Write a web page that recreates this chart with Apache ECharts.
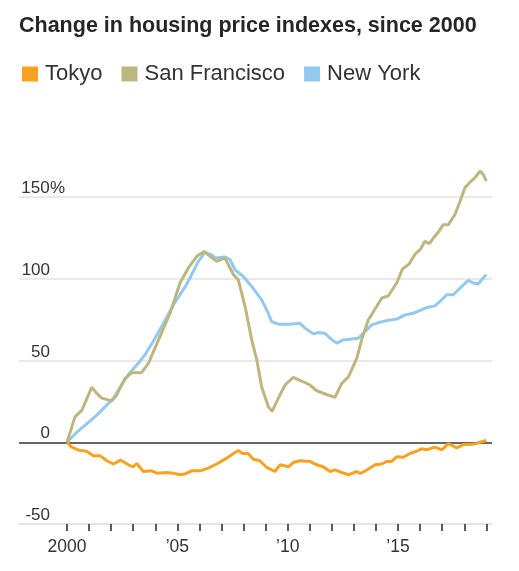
<!DOCTYPE html>
<html><head><meta charset="utf-8">
<script src="https://cdn.jsdelivr.net/npm/echarts@6/dist/echarts.min.js"></script>
<style>html,body{margin:0;padding:0;background:#fff}#c{width:519px;height:571px}</style>
</head><body><div id="c"></div>
<script>
const titleText = 'Change in housing price indexes, since 2000';
const seriesNames = ['Tokyo', 'San Francisco', 'New York'];
const yTicks = [-50, 0, 50, 100, 150];
const xTickYears = [2000,2001,2002,2003,2004,2005,2006,2007,2008,2009,2010,2011,2012,2013,2014,2015,2016,2017,2018,2019];
const xLabelYears = [2000, 2005, 2010, 2015];

const tokyoT = [2000,2000.21,2000.59,2000.89,2001.19,2001.5,2001.8,2002.1,2002.43,2002.78,2003.0,2003.16,2003.46,2003.84,2004.06,2004.52,2004.82,2005.12,2005.35,2005.65,2006.03,2006.4,2006.78,2007.24,2007.54,2007.76,2007.96,2008.21,2008.44,2008.74,2009.04,2009.42,2009.65,2010.03,2010.25,2010.56,2011.01,2011.31,2011.61,2011.92,2012.14,2012.45,2012.75,2013.13,2013.28,2013.58,2013.96,2014.26,2014.49,2014.71,2014.94,2015.24,2015.54,2015.84,2016.07,2016.3,2016.67,2016.98,2017.28,2017.66,2017.96,2018.26,2018.49,2018.71,2019.0];
const tokyoV = [0,-3,-5.1,-5.5,-8.2,-8.2,-11.3,-13.3,-10.9,-13.8,-15,-13,-17.9,-17.5,-18.9,-18.5,-18.9,-19.9,-19.4,-17.5,-17.5,-15.8,-13.3,-9.7,-6.9,-5.1,-6.9,-6.9,-10.4,-11.3,-15.3,-17.9,-13.8,-15,-12.4,-11.3,-11.7,-13.8,-15,-17.9,-16.9,-18.5,-19.9,-17.9,-19.1,-17,-13.8,-13.3,-11.7,-11.7,-8.8,-9.2,-6.9,-5.5,-4,-4.6,-3,-4.6,-0.9,-3.4,-1.4,-1.4,-1,0,1.1];

const sfT = [2000,2000.36,2000.67,2001.12,2001.35,2001.57,2002.02,2002.25,2002.63,2002.93,2003.38,2003.69,2004.21,2004.67,2005.12,2005.5,2005.88,2006.22,2006.48,2006.78,2007.16,2007.54,2007.76,2008.07,2008.37,2008.6,2008.82,2009.12,2009.3,2009.57,2009.88,2010.25,2010.71,2011.01,2011.31,2011.77,2012.14,2012.45,2012.75,2013.13,2013.35,2013.65,2014.03,2014.26,2014.56,2014.94,2015.2,2015.5,2015.77,2016.0,2016.22,2016.42,2016.6,2016.82,2017.05,2017.28,2017.58,2017.81,2018.03,2018.26,2018.49,2018.71,2018.86,2019.0];
const sfV = [0,15.5,19.5,33.6,29.9,27,25.3,28.8,39.1,42.5,42.7,48.3,64.6,78.9,97.4,106.6,113.7,116.7,113.7,110.6,112.7,102.5,99.4,83,62.6,50.3,33.9,21.7,19,26.8,35,39.7,37,35,31.5,29.2,27.4,36,40,51.3,62.6,74.8,83,88.1,89.6,97.4,106,109,115,117.8,122.9,121.5,124.9,128.4,133.1,133.1,139.3,147.4,155.6,159.1,161.8,165.8,163.8,159.7];

const nyT = [2000,2000.44,2000.89,2001.35,2001.8,2002.1,2002.55,2002.85,2003.23,2003.53,2003.99,2004.37,2004.82,2005.12,2005.35,2005.57,2005.95,2006.25,2006.55,2006.71,2007.16,2007.39,2007.61,2007.99,2008.37,2008.82,2009.12,2009.27,2009.57,2010.1,2010.56,2010.78,2011.16,2011.39,2011.69,2011.92,2012.22,2012.52,2012.82,2013.2,2013.5,2013.81,2014.11,2014.49,2014.94,2015.32,2015.69,2016.0,2016.3,2016.67,2016.98,2017.2,2017.5,2017.81,2018.18,2018.41,2018.63,2018.86,2019.0];
const nyV = [0,6.1,11.3,16.6,22.7,26.8,37,42.5,48.3,53.4,63.6,72.8,84,90.2,95,100.4,110.6,116.1,114.7,112.7,113.3,111.7,105.5,101.4,95.3,87.1,78.9,73.8,72.2,72.2,72.8,69.8,66.3,67.1,66.7,63.6,60.6,62.6,63,63.6,67.7,71.8,73.2,74.4,75.3,77.9,78.9,80.6,82.4,83.4,87.1,90.2,90.2,94.3,99,97.4,96.8,100.4,102.5];

const colors = ['#F8A21F', '#BDB77F', '#93C9EE'];
const pair = (t, v) => t.map((x, i) => [x, v[i]]);
const FONT = 'Liberation Sans';

const chart = echarts.init(document.getElementById('c'), null, {renderer: 'canvas'});
chart.setOption({
  animation: false,
  color: colors,
  title: {
    text: titleText, left: 19, top: 15, padding: 0,
    textStyle: {fontFamily: FONT, fontWeight: 'bold', fontSize: 21.5, color: '#262626'}
  },
  legend: {
    left: 22, top: 63, padding: 0, itemGap: 19,
    icon: 'rect', itemWidth: 16, itemHeight: 15,
    data: seriesNames,
    textStyle: {fontFamily: FONT, fontSize: 22, color: '#333', padding: [0, 0, 0, 2]}
  },
  grid: {left: 19, right: 27, top: 197, bottom: 47, containLabel: false},
  xAxis: {
    type: 'value', min: 1997.825, max: 2019.257,
    splitLine: {show: false},
    axisLine: {show: true, onZero: false, lineStyle: {color: '#e2e2e2', width: 1.5}},
    axisTick: {show: true, customValues: xTickYears, length: 7, lineStyle: {color: '#333', width: 1.6}},
    axisLabel: {
      customValues: xLabelYears, margin: 14,
      fontFamily: FONT, fontSize: 17.5, color: '#333',
      formatter: v => v === 2000 ? '2000' : '\u2019' + String(v).slice(2)
    }
  },
  yAxis: {
    type: 'value', min: yTicks[0], max: yTicks[yTicks.length - 1], interval: 50,
    axisLine: {show: false}, axisTick: {show: false},
    splitLine: {show: true, lineStyle: {color: ['#e2e2e2', '#333', '#e2e2e2', '#e2e2e2', '#e2e2e2'], width: 1.5}},
    axisLabel: {
      inside: true, margin: 2, align: 'left', verticalAlign: 'bottom',
      fontFamily: FONT, fontSize: 17, color: '#333',
      formatter: v => v === 150 ? '{n|150}%' : '{n|' + v + '}',
      rich: {n: {width: 29, align: 'right', fontFamily: FONT, fontSize: 17, color: '#333'}}
    }
  },
  series: [
    {name: seriesNames[0], type: 'line', data: pair(tokyoT, tokyoV), showSymbol: false, symbol: 'none', clip: false, z: 4, lineStyle: {width: 3, color: colors[0]}},
    {name: seriesNames[1], type: 'line', data: pair(sfT, sfV), showSymbol: false, symbol: 'none', clip: false, z: 3, lineStyle: {width: 3, color: colors[1]}},
    {name: seriesNames[2], type: 'line', data: pair(nyT, nyV), showSymbol: false, symbol: 'none', clip: false, z: 2, lineStyle: {width: 3, color: colors[2]}}
  ]
});
</script></body></html>
